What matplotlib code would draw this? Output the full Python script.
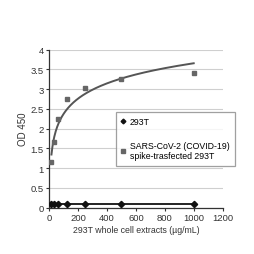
import numpy as np
import matplotlib

matplotlib.use("Agg")
import matplotlib.pyplot as plt  # noqa: E402

plt.rcParams["font.family"] = ["Liberation Sans", "DejaVu Sans"]

conc = [15.6, 31.25, 62.5, 125, 250, 500, 1000]
od_293t = [0.1, 0.1, 0.1, 0.1, 0.1, 0.1, 0.1]
od_spike = [1.15, 1.66, 2.24, 2.76, 3.02, 3.26, 3.42]

labels = ["293T", "SARS-CoV-2 (COVID-19)\nspike-trasfected 293T"]


def main() -> None:
    fig = plt.figure(figsize=(2.55, 2.55), dpi=100)
    ax = fig.add_axes([0.193, 0.182, 0.68, 0.619])

    ax.grid(axis="y", color="#cfcfcf", lw=0.8)
    ax.set_axisbelow(True)

    ax.plot(conc, od_293t, color="#111111", lw=1.3, marker="D", ms=3.2,
            label=labels[0], zorder=3)
    ax.plot(conc, od_spike, ls="none", marker="s", ms=3.2, color="#666666",
            label=labels[1], zorder=3)

    # logarithmic trendline fitted to the spike data
    a, b = np.polyfit(np.log(conc), od_spike, 1)
    xs = np.linspace(conc[0], conc[-1], 300)
    ax.plot(xs, a * np.log(xs) + b, color="#555555", lw=1.4, zorder=2)

    ax.set_xlim(0, 1200)
    ax.set_ylim(0, 4)
    ax.set_xticks(range(0, 1201, 200))
    ax.set_yticks(np.arange(0, 4.01, 0.5))
    ax.set_yticklabels(["0", "0.5", "1", "1.5", "2", "2.5", "3", "3.5", "4"])
    for s in ("top", "right"):
        ax.spines[s].set_visible(False)
    for s in ("left", "bottom"):
        ax.spines[s].set_color("#333333")
        ax.spines[s].set_linewidth(0.9)
    ax.tick_params(labelsize=6.8, length=2.5, width=0.8, colors="#333333",
                   pad=1.5)

    ax.set_xlabel("293T whole cell extracts (\u00b5g/mL)", fontsize=6.3,
                  color="#333333", labelpad=2)
    ax.set_ylabel("OD 450", fontsize=7, color="#333333", labelpad=2)

    leg = ax.legend(loc="upper left", bbox_to_anchor=(0.385, 0.606),
                    fontsize=6.3, frameon=True, fancybox=False,
                    handlelength=0.5, handletextpad=0.45, borderpad=0.6,
                    labelspacing=1.7, borderaxespad=0, markerscale=0.75)
    leg.get_frame().set_edgecolor("#888888")
    leg.get_frame().set_linewidth(0.9)
    for h in leg.legend_handles:
        h.set_linestyle("none")

    fig.savefig("out.png", dpi=100)
    plt.close(fig)


if __name__ == "__main__":
    main()
